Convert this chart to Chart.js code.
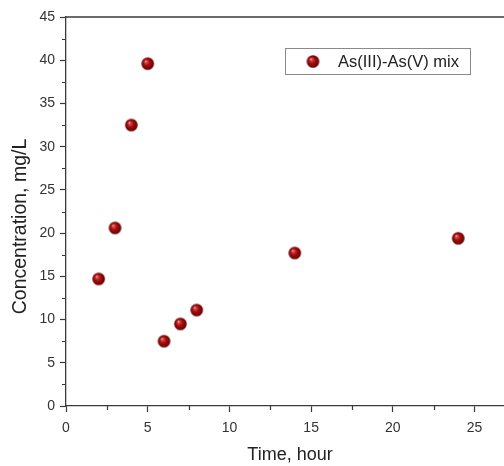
<!DOCTYPE html>
<html>
<head>
<meta charset="utf-8">
<script src="https://cdn.jsdelivr.net/npm/chart.js@4.4.1/dist/chart.umd.min.js"></script>
<style>
  html, body { margin: 0; padding: 0; background: #fff; }
  #wrap { width: 504px; height: 466px; position: relative; }
</style>
</head>
<body>
<div id="wrap"><canvas id="chart" width="504" height="466"></canvas></div>
<script>
// Data
const seriesLabel = 'As(III)-As(V) mix';
const xTitle = 'Time, hour';
const yTitle = 'Concentration, mg/L';
const timeHours = [2, 3, 4, 5, 6, 7, 8, 14, 24];
const concentration = [14.7, 20.6, 32.5, 39.6, 7.5, 9.5, 11.1, 17.7, 19.4];
const xTicks = [0, 5, 10, 15, 20, 25];
const yTicks = [0, 5, 10, 15, 20, 25, 30, 35, 40, 45];

const FONT = '"Liberation Sans", Arial, sans-serif';
const AXIS_COLOR = '#3a3a3a';

// shaded ball marker
function makeBall(r) {
  const size = Math.ceil(r * 2 + 4);
  const c = document.createElement('canvas');
  c.width = size; c.height = size;
  const ctx = c.getContext('2d');
  const cx = size / 2, cy = size / 2;
  const g = ctx.createRadialGradient(cx - r * 0.35, cy - r * 0.4, 0, cx, cy, r);
  g.addColorStop(0, '#fbe2e2');
  g.addColorStop(0.18, '#d84a4a');
  g.addColorStop(0.5, '#a40f0f');
  g.addColorStop(0.85, '#7c0202');
  g.addColorStop(1, '#560000');
  ctx.fillStyle = g;
  ctx.beginPath();
  ctx.arc(cx, cy, r, 0, Math.PI * 2);
  ctx.fill();
  return c;
}
const ball = makeBall(6.3);

// top frame line, minor ticks, axis titles and the boxed legend
const decorations = {
  id: 'decorations',
  afterDraw(chart) {
    const { ctx, chartArea, scales } = chart;
    const x = scales.x, y = scales.y;
    ctx.save();
    ctx.strokeStyle = AXIS_COLOR;
    ctx.lineWidth = 1.3;
    ctx.beginPath();
    ctx.moveTo(chartArea.left, chartArea.top);
    ctx.lineTo(chartArea.right, chartArea.top);
    ctx.stroke();

    ctx.lineWidth = 1.2;
    ctx.beginPath();
    for (let v = 2.5; v < x.max; v += 5) {
      const px = Math.round(x.getPixelForValue(v)) + 0.5;
      ctx.moveTo(px, chartArea.bottom);
      ctx.lineTo(px, chartArea.bottom + 4);
    }
    for (let v = 2.5; v < y.max; v += 5) {
      const py = Math.round(y.getPixelForValue(v)) + 0.5;
      ctx.moveTo(chartArea.left, py);
      ctx.lineTo(chartArea.left - 4, py);
    }
    ctx.stroke();

    // axis titles
    ctx.fillStyle = '#222';
    ctx.textAlign = 'center';
    ctx.textBaseline = 'middle';
    ctx.font = '18px ' + FONT;
    ctx.fillText(xTitle, 290, 455);

    ctx.save();
    ctx.translate(21, 226.5);
    ctx.rotate(-Math.PI / 2);
    ctx.font = '19.5px ' + FONT;
    ctx.fillText(yTitle, 0, 0);
    ctx.restore();

    // legend box
    const bx = 285.5, by = 48.5, bw = 185, bh = 26;
    ctx.fillStyle = '#fff';
    ctx.fillRect(bx, by, bw, bh);
    ctx.strokeStyle = '#8a8a8a';
    ctx.lineWidth = 1;
    ctx.strokeRect(bx, by, bw, bh);
    ctx.drawImage(ball, 313 - ball.width / 2, by + bh / 2 - ball.height / 2);
    ctx.fillStyle = '#222';
    ctx.font = '16.5px ' + FONT;
    ctx.textAlign = 'left';
    ctx.fillText(chart.data.datasets[0].label, 338, by + bh / 2 + 1);
    ctx.restore();
  }
};

new Chart(document.getElementById('chart'), {
  type: 'scatter',
  data: {
    datasets: [{
      label: seriesLabel,
      data: timeHours.map((t, i) => ({ x: t, y: concentration[i] })),
      pointStyle: ball,
      pointRadius: 7,
      pointHoverRadius: 7
    }]
  },
  options: {
    responsive: false,
    animation: false,
    layout: { autoPadding: false, padding: { top: 17, left: 0, right: 0, bottom: 0 } },
    plugins: {
      legend: { display: false },
      tooltip: { enabled: false }
    },
    scales: {
      x: {
        type: 'linear',
        min: 0,
        max: 26.8,
        afterFit: (s) => { s.height = 60; },
        afterBuildTicks: (s) => { s.ticks = xTicks.map(v => ({ value: v })); },
        border: { display: true, color: AXIS_COLOR, width: 1.3 },
        grid: { drawOnChartArea: false, drawTicks: true, tickLength: 6, tickColor: AXIS_COLOR, tickWidth: 1.2 },
        ticks: { color: '#333', padding: 8, font: { family: FONT, size: 14 } },
        title: { display: false }
      },
      y: {
        type: 'linear',
        min: 0,
        max: 45,
        afterFit: (s) => { s.width = 66; },
        afterBuildTicks: (s) => { s.ticks = yTicks.map(v => ({ value: v })); },
        border: { display: true, color: AXIS_COLOR, width: 1.3 },
        grid: { drawOnChartArea: false, drawTicks: true, tickLength: 6, tickColor: AXIS_COLOR, tickWidth: 1.2 },
        ticks: { color: '#333', padding: 5, font: { family: FONT, size: 14 } },
        title: { display: false }
      }
    }
  },
  plugins: [decorations]
});
</script>
</body>
</html>
